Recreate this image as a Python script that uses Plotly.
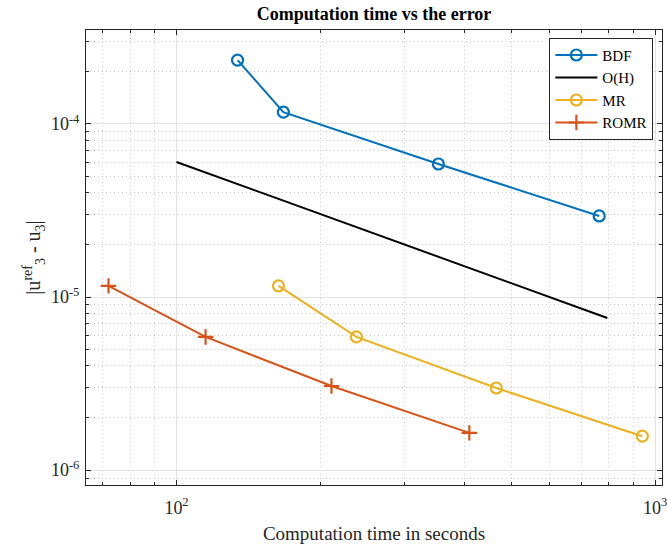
import plotly.graph_objects as go
import numpy as np

# Data
bdf_time = [134.1, 167.2, 352.4, 763.7]
bdf_err = [2.34e-4, 1.17e-4, 5.87e-5, 2.94e-5]

oh_time = [100, 794]
oh_err = [6.03e-5, 7.57e-6]

mr_time = [163.3, 237.6, 465.6, 939.8]
mr_err = [1.16e-5, 5.88e-6, 2.98e-6, 1.57e-6]

romr_time = [72.1, 115.0, 210.7, 408.9]
romr_err = [1.16e-5, 5.88e-6, 3.06e-6, 1.64e-6]

x_major = [100, 1000]
x_major_text = ["10<sup>2</sup>", "10<sup>3</sup>"]
x_minor = [70, 80, 90, 200, 300, 400, 500, 600, 700, 800, 900]
y_major = [1e-6, 1e-5, 1e-4]
y_major_text = ["10<sup>-6</sup>", "10<sup>-5</sup>", "10<sup>-4</sup>"]
y_minor = [9e-7, 2e-6, 3e-6, 4e-6, 5e-6, 6e-6, 7e-6, 8e-6, 9e-6,
           2e-5, 3e-5, 4e-5, 5e-5, 6e-5, 7e-5, 8e-5, 9e-5, 2e-4, 3e-4]

FONT = "Liberation Serif"

fig = go.Figure()
fig.add_trace(go.Scatter(x=bdf_time, y=bdf_err, name="BDF", mode="lines+markers",
                         line=dict(color="#0072BD", width=2),
                         marker=dict(symbol="circle-open", size=11, line=dict(width=2.2), color="#0072BD")))
fig.add_trace(go.Scatter(x=oh_time, y=oh_err, name="O(H)", mode="lines",
                         line=dict(color="black", width=2)))
fig.add_trace(go.Scatter(x=mr_time, y=mr_err, name="MR", mode="lines+markers",
                         line=dict(color="#EDB120", width=2),
                         marker=dict(symbol="circle-open", size=11, line=dict(width=2.2), color="#EDB120")))
fig.add_trace(go.Scatter(x=romr_time, y=romr_err, name="ROMR", mode="lines+markers",
                         line=dict(color="#D95319", width=2),
                         marker=dict(symbol="cross-thin-open", size=11, line=dict(width=2.2, color="#D95319"), color="#D95319")))

axis_common = dict(
    type="log", showline=True, linecolor="#262626", linewidth=1, mirror="allticks",
    ticks="inside", ticklen=5, tickcolor="#262626", tickwidth=1,
    showgrid=True, gridcolor="#e3e3e3", gridwidth=1, zeroline=False,
    tickfont=dict(family=FONT, size=18, color="#262626"),
    ticklabeloverflow="allow", automargin=False,
)
minor_common = dict(ticks="inside", ticklen=3, tickcolor="#262626",
                    showgrid=True, gridcolor="#c8c8c8", griddash="1px,3px", gridwidth=1)

fig.update_xaxes(
    **axis_common,
    range=[np.log10(64.7), np.log10(1033)],
    tickvals=x_major, ticktext=x_major_text,
    ticklabelstandoff=6,
    minor=dict(tickvals=x_minor, **minor_common),
    title=dict(text="Computation time in seconds", font=dict(family=FONT, size=19, color="#262626"), standoff=10),
)
fig.update_yaxes(
    **axis_common,
    range=[np.log10(8.2e-7), np.log10(3.49e-4)],
    tickvals=y_major, ticktext=y_major_text,
    ticklabelstandoff=2,
    minor=dict(tickvals=y_minor, **minor_common),
    title=dict(text="|u<sup>ref</sup><sub>3</sub> - u<sub>3</sub>|", font=dict(family=FONT, size=20, color="#262626"), standoff=4),
)

fig.update_layout(
    width=667, height=546,
    margin=dict(l=86, r=5, t=30, b=61),
    paper_bgcolor="white", plot_bgcolor="white",
    title=dict(text="<b>Computation time vs the error</b>", x=(86 + 662) / 2 / 667, xanchor="center",
               y=1 - 14 / 546, yanchor="middle", font=dict(family=FONT, size=18, color="black")),
    legend=dict(x=0.985, xanchor="right", y=0.983, yanchor="top",
                bgcolor="white", bordercolor="#262626", borderwidth=1,
                font=dict(family=FONT, size=15, color="black"),
                tracegroupgap=0, itemwidth=42),
    showlegend=True,
)

fig.write_html("out.html")
